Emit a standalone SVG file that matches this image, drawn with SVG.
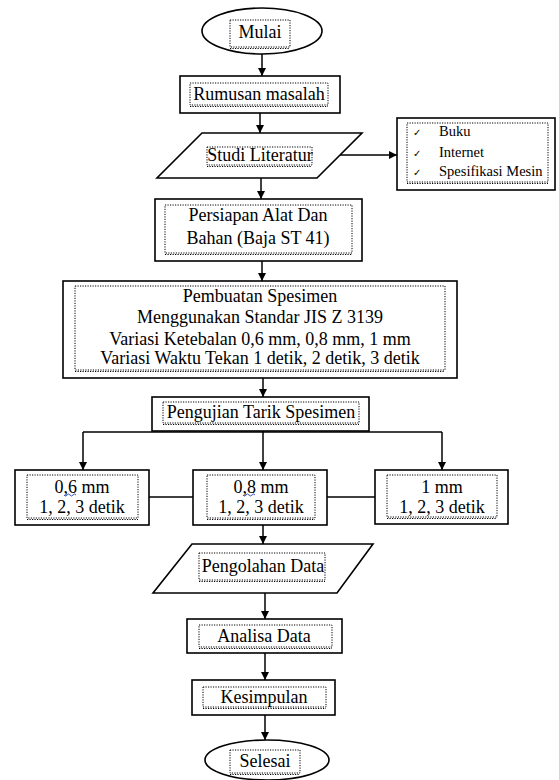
<svg xmlns="http://www.w3.org/2000/svg" width="559" height="780" viewBox="0 0 559 780">
<defs>
<style>
.box{fill:#fff;stroke:#000;stroke-width:1.6}
.dot{fill:none;stroke:#000;stroke-width:1;stroke-dasharray:1.2 1.3}
.t{font-family:'Liberation Serif','DejaVu Serif',serif;font-size:18px;fill:#000;text-anchor:middle}
.s{font-family:'Liberation Serif','DejaVu Serif',serif;font-size:14.5px;fill:#000}
.ck{font-family:'DejaVu Sans',sans-serif;font-size:10px;fill:#000}
.ln{fill:none;stroke:#000;stroke-width:1.5}
.sq{fill:none;stroke:#3a4fb0;stroke-width:1}
</style>
<marker id="ah" markerUnits="userSpaceOnUse" markerWidth="8" markerHeight="8" refX="8" refY="4" orient="auto">
<path d="M0,0 L8,4 L0,8 z" fill="#000"/>
</marker>
</defs>
<rect width="559" height="780" fill="#fff"/>
<g id="connectors">
<line class="ln" x1="262" y1="54" x2="262" y2="76" marker-end="url(#ah)"/>
<line class="ln" x1="260" y1="113" x2="260" y2="133" marker-end="url(#ah)"/>
<line class="ln" x1="340" y1="155" x2="397" y2="155" marker-end="url(#ah)"/>
<line class="ln" x1="261" y1="178" x2="261" y2="199" marker-end="url(#ah)"/>
<line class="ln" x1="262" y1="261" x2="262" y2="281" marker-end="url(#ah)"/>
<line class="ln" x1="263" y1="378" x2="263" y2="397" marker-end="url(#ah)"/>
<line class="ln" x1="83" y1="432" x2="442" y2="432"/>
<line class="ln" x1="83" y1="432" x2="83" y2="470" marker-end="url(#ah)"/>
<line class="ln" x1="263" y1="431" x2="263" y2="470" marker-end="url(#ah)"/>
<line class="ln" x1="442" y1="432" x2="442" y2="470" marker-end="url(#ah)"/>
<line class="ln" x1="149" y1="497" x2="193" y2="497"/>
<line class="ln" x1="327" y1="497" x2="375" y2="497"/>
<line class="ln" x1="263" y1="525" x2="263" y2="544" marker-end="url(#ah)"/>
<line class="ln" x1="265" y1="593" x2="265" y2="619" marker-end="url(#ah)"/>
<line class="ln" x1="265" y1="653" x2="265" y2="680" marker-end="url(#ah)"/>
<line class="ln" x1="265" y1="715" x2="265" y2="740" marker-end="url(#ah)"/>
</g>
<g id="mulai">
<ellipse class="box" cx="262" cy="31" rx="60" ry="23"/>
<rect class="dot" x="230" y="20" width="60" height="27"/>
<line class="dot" x1="230" y1="48.5" x2="290" y2="48.5"/>
<text class="t" x="260" y="38">Mulai</text>
</g>
<g id="rumusan">
<rect class="box" x="180" y="76" width="160" height="37"/>
<rect class="dot" x="190" y="83" width="138" height="22"/>
<line class="dot" x1="190" y1="106.5" x2="328" y2="106.5"/>
<text class="t" x="259" y="100">Rumusan masalah</text>
</g>
<g id="studi">
<polygon class="box" points="202,133 362,133 317,178 157,178"/>
<rect class="dot" x="207" y="147" width="105" height="18"/>
<line class="dot" x1="207" y1="166.5" x2="312" y2="166.5"/>
<text class="t" x="260" y="161">Studi Literatur</text>
</g>
<g id="sumber">
<rect class="box" x="397" y="118" width="158" height="72"/>
<rect class="dot" x="407" y="123" width="141" height="59"/>
<line class="dot" x1="407" y1="183.5" x2="548" y2="183.5"/>
<text class="ck" x="413" y="136">✓</text>
<text class="ck" x="413" y="157">✓</text>
<text class="ck" x="413" y="176">✓</text>
<text class="s" x="439" y="136">Buku</text>
<text class="s" x="439" y="157">Internet</text>
<text class="s" x="439" y="176">Spesifikasi Mesin</text>
</g>
<g id="persiapan">
<rect class="box" x="155" y="199" width="207" height="62"/>
<rect class="dot" x="165" y="205" width="187" height="48"/>
<line class="dot" x1="165" y1="254.5" x2="352" y2="254.5"/>
<text class="t" x="258" y="221">Persiapan Alat Dan</text>
<text class="t" x="258" y="244">Bahan (Baja ST 41)</text>
</g>
<g id="pembuatan">
<rect class="box" x="63" y="281" width="394" height="97"/>
<rect class="dot" x="75" y="286" width="370" height="84"/>
<line class="dot" x1="75" y1="371.5" x2="445" y2="371.5"/>
<text class="t" x="260" y="302">Pembuatan Spesimen</text>
<text class="t" x="260" y="323">Menggunakan Standar JIS Z 3139</text>
<text class="t" x="260" y="345">Variasi Ketebalan 0,6 mm, 0,8 mm, 1 mm</text>
<text class="t" x="260" y="364">Variasi Waktu Tekan 1 detik, 2 detik, 3 detik</text>
</g>
<g id="pengujian">
<rect class="box" x="152" y="397" width="217" height="34"/>
<rect class="dot" x="163" y="402" width="196" height="21"/>
<line class="dot" x1="163" y1="424.5" x2="359" y2="424.5"/>
<text class="t" x="261" y="418">Pengujian Tarik Spesimen</text>
</g>
<g id="tebal06">
<rect class="box" x="15" y="470" width="134" height="55"/>
<rect class="dot" x="27" y="475" width="111" height="43"/>
<line class="dot" x1="27" y1="519.5" x2="138" y2="519.5"/>
<text class="t" x="82" y="493">0,6 mm</text>
<text class="t" x="82" y="513">1, 2, 3 detik</text>
<path class="sq" d="M64,495 q1.5,2 3,0 t3,0 t3,0 t3,0"/>
</g>
<g id="tebal08">
<rect class="box" x="193" y="470" width="134" height="55"/>
<rect class="dot" x="207" y="475" width="108" height="43"/>
<line class="dot" x1="207" y1="519.5" x2="315" y2="519.5"/>
<text class="t" x="261" y="493">0,8 mm</text>
<text class="t" x="261" y="513">1, 2, 3 detik</text>
<path class="sq" d="M243,495 q1.5,2 3,0 t3,0 t3,0 t3,0"/>
</g>
<g id="tebal1">
<rect class="box" x="375" y="470" width="133" height="54"/>
<rect class="dot" x="387" y="475" width="110" height="42"/>
<line class="dot" x1="387" y1="518.5" x2="497" y2="518.5"/>
<text class="t" x="442" y="493">1 mm</text>
<text class="t" x="442" y="513">1, 2, 3 detik</text>
</g>
<g id="pengolahan">
<polygon class="box" points="192,544 373,544 337,593 153,593"/>
<rect class="dot" x="199" y="553" width="126" height="27"/>
<line class="dot" x1="199" y1="581.5" x2="325" y2="581.5"/>
<text class="t" x="263" y="572">Pengolahan Data</text>
</g>
<g id="analisa">
<rect class="box" x="187" y="619" width="155" height="34"/>
<rect class="dot" x="199" y="625" width="133" height="22"/>
<line class="dot" x1="199" y1="648.5" x2="332" y2="648.5"/>
<text class="t" x="264" y="642">Analisa Data</text>
</g>
<g id="kesimpulan">
<rect class="box" x="192" y="680" width="143" height="35"/>
<rect class="dot" x="203" y="687" width="123" height="20"/>
<line class="dot" x1="203" y1="708.5" x2="326" y2="708.5"/>
<text class="t" x="264" y="703">Kesimpulan</text>
</g>
<g id="selesai">
<ellipse class="box" cx="267" cy="760" rx="62" ry="20"/>
<rect class="dot" x="230" y="750" width="70" height="23"/>
<line class="dot" x1="230" y1="774.5" x2="300" y2="774.5"/>
<text class="t" x="265" y="767">Selesai</text>
</g>
</svg>
